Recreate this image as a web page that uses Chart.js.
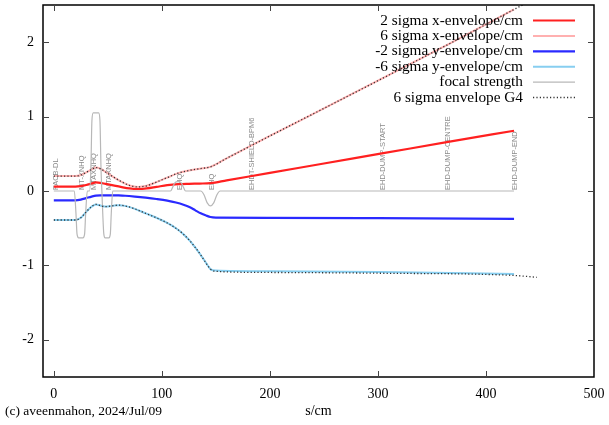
<!DOCTYPE html>
<html>
<head>
<meta charset="utf-8">
<script src="https://cdn.jsdelivr.net/npm/chart.js@4/dist/chart.umd.min.js"></script>
<style>
  html, body { margin: 0; padding: 0; background: #fff; }
  #wrap { width: 609px; height: 425px; position: relative; }
</style>
</head>
<body>
<div id="wrap"><canvas id="c" width="609" height="425"></canvas></div>
<script>
// Beam envelopes along the beamline (s in cm)
const sEnvX   = [0, 20, 25, 30, 35, 39, 43, 48, 55, 62, 70, 78, 86, 95, 105, 115, 125, 135, 145, 160, 200, 250, 305, 365, 426];
const sigma2X = [0.06, 0.06, 0.066, 0.08, 0.1, 0.115, 0.11, 0.095, 0.075, 0.055, 0.035, 0.028, 0.035, 0.055, 0.078, 0.092, 0.097, 0.1, 0.105, 0.143, 0.243, 0.37, 0.508, 0.66, 0.81];
const sigma6X = [0.2, 0.2, 0.215, 0.25, 0.29, 0.315, 0.3, 0.255, 0.19, 0.13, 0.075, 0.055, 0.07, 0.12, 0.18, 0.24, 0.275, 0.3, 0.325, 0.44, 0.74, 1.11, 1.52, 1.97, 2.44];

const sEnvY   = [0, 20, 25, 30, 35, 39, 43, 48, 54, 60, 66, 75, 85, 95, 105, 113, 120, 126, 131, 136, 141, 145, 150, 200, 300, 426];
const sigma2Y = [-0.125, -0.125, -0.115, -0.095, -0.075, -0.062, -0.058, -0.058, -0.058, -0.06, -0.064, -0.075, -0.09, -0.108, -0.13, -0.155, -0.185, -0.22, -0.26, -0.3, -0.33, -0.35, -0.357, -0.36, -0.365, -0.375];
const sigma6Y = [-0.39, -0.39, -0.36, -0.28, -0.21, -0.18, -0.195, -0.21, -0.2, -0.19, -0.2, -0.24, -0.3, -0.36, -0.43, -0.5, -0.58, -0.67, -0.76, -0.86, -0.97, -1.05, -1.07, -1.08, -1.09, -1.115];

// Geant4 6-sigma envelope (x and y)
const sG4X = [0, 20, 25, 30, 35, 39, 43, 48, 55, 62, 70, 78, 86, 95, 105, 115, 125, 135, 145, 160, 200, 250, 305, 365, 426, 447];
const g4X  = [0.2, 0.2, 0.215, 0.25, 0.29, 0.315, 0.3, 0.255, 0.19, 0.13, 0.075, 0.055, 0.07, 0.12, 0.18, 0.24, 0.275, 0.3, 0.325, 0.44, 0.74, 1.11, 1.52, 1.97, 2.44, 2.6];
const sG4Y = [0, 20, 25, 30, 35, 39, 43, 48, 54, 60, 66, 75, 85, 95, 105, 113, 120, 126, 131, 136, 141, 145, 150, 200, 300, 426, 447];
const g4Y  = [-0.39, -0.39, -0.36, -0.28, -0.21, -0.18, -0.195, -0.21, -0.2, -0.19, -0.2, -0.24, -0.3, -0.36, -0.43, -0.5, -0.58, -0.67, -0.76, -0.86, -0.97, -1.05, -1.08, -1.095, -1.105, -1.135, -1.16];

// Quadrupole focal strength
const sFocal = [0, 19, 20.5, 21.5, 23, 27, 28.5, 29.5, 31, 33, 34.3, 35.3, 36.5, 41.5, 42.7, 43.7, 44.5, 45.3, 46.3, 47.5, 51, 52.3, 53.2, 54.5, 108, 110, 112, 115, 118, 120, 122, 136, 139, 142, 145, 148, 151, 154, 426];
const focal  = [0, 0, -0.3, -0.58, -0.63, -0.63, -0.58, -0.3, 0, 0, 0.3, 0.95, 1.05, 1.05, 0.95, 0.3, 0, -0.3, -0.58, -0.63, -0.63, -0.58, -0.3, 0, 0, 0.05, 0.11, 0.125, 0.11, 0.05, 0, 0, -0.05, -0.16, -0.2, -0.16, -0.05, 0, 0];

// Beamline element markers
const elemS     = [2, 26.5, 37, 51, 116.5, 146, 183.6, 304.7, 365, 427];
const elemNames = ['FACB-DL', 'MT-XNHQ', 'MTAXNHQ', 'MTAXNHQ', 'EHQ', 'EHQ', 'EHDT-SHIELD-BPM6', 'EHD-DUMP-START', 'EHD-DUMP-CENTRE', 'EHD-DUMP-END'];

const xTicks = [0, 100, 200, 300, 400, 500];
const yTicks = [-2, -1, 0, 1, 2];

const SERIF = '"Liberation Serif", "DejaVu Serif", serif';
const pts = (s, v) => s.map((x, i) => ({ x: x, y: v[i] }));

const datasets = [
  { label: '2 sigma x-envelope/cm', data: pts(sEnvX, sigma2X), borderColor: '#ff2020', borderWidth: 2.2, order: 6 },
  { label: '6 sigma x-envelope/cm', data: pts(sEnvX, sigma6X), borderColor: '#ffb0b0', borderWidth: 2, order: 5 },
  { label: '-2 sigma y-envelope/cm', data: pts(sEnvY, sigma2Y), borderColor: '#2a2aff', borderWidth: 2.2, order: 4 },
  { label: '-6 sigma y-envelope/cm', data: pts(sEnvY, sigma6Y), borderColor: '#87cef0', borderWidth: 2, order: 3 },
  { label: 'focal strength', data: pts(sFocal, focal), borderColor: '#b8b8b8', borderWidth: 1.2, order: 2 },
  { label: '6 sigma envelope G4', data: pts(sG4X, g4X), borderColor: '#333', borderWidth: 1.3, borderDash: [1.2, 2.2], order: 1 },
  { label: '6 sigma envelope G4', data: pts(sG4Y, g4Y), borderColor: '#333', borderWidth: 1.3, borderDash: [1.2, 2.2], order: 0, legendSkip: true }
];
datasets.forEach(d => {
  d.pointRadius = 0;
  d.fill = false;
  d.cubicInterpolationMode = 'monotone';
});

// Vertical element names sitting on the zero line
const elementLabels = {
  id: 'elementLabels',
  beforeDatasetsDraw(chart) {
    const { ctx, scales: { x, y } } = chart;
    ctx.save();
    ctx.fillStyle = '#8a8a8a';
    ctx.font = '7.5px "Liberation Sans", "DejaVu Sans", sans-serif';
    ctx.textAlign = 'left';
    ctx.textBaseline = 'middle';
    const y0 = y.getPixelForValue(0);
    elemS.forEach((s, i) => {
      ctx.save();
      ctx.translate(x.getPixelForValue(s), y0 - 1);
      ctx.rotate(-Math.PI / 2);
      ctx.fillText(elemNames[i], 0, 0);
      ctx.restore();
    });
    ctx.restore();
  }
};

// Box frame with inward ticks on all four sides, legend and credit line
const frame = {
  id: 'frame',
  afterDraw(chart) {
    const { ctx, chartArea: a, scales: { x, y } } = chart;
    ctx.save();
    ctx.strokeStyle = '#000';
    ctx.lineWidth = 1.5;
    ctx.strokeRect(a.left, a.top, a.right - a.left, a.bottom - a.top);
    ctx.lineWidth = 1;
    ctx.strokeStyle = '#444';
    const tl = 6;
    ctx.beginPath();
    xTicks.forEach(v => {
      const px = Math.round(x.getPixelForValue(v)) + 0.5;
      ctx.moveTo(px, a.bottom); ctx.lineTo(px, a.bottom - tl);
      ctx.moveTo(px, a.top); ctx.lineTo(px, a.top + tl);
    });
    yTicks.forEach(v => {
      const py = Math.round(y.getPixelForValue(v)) + 0.5;
      ctx.moveTo(a.left, py); ctx.lineTo(a.left + tl, py);
      ctx.moveTo(a.right, py); ctx.lineTo(a.right - tl, py);
    });
    ctx.stroke();

    // legend: right-aligned text, sample line to its right
    ctx.font = '15.3px ' + SERIF;
    ctx.textAlign = 'right';
    ctx.textBaseline = 'middle';
    let row = 0;
    chart.data.datasets.forEach(d => {
      if (d.legendSkip) return;
      const yy = 20.5 + row * 15.4;
      ctx.fillStyle = '#000';
      ctx.fillText(d.label, 523, yy);
      ctx.save();
      ctx.strokeStyle = d.borderColor;
      ctx.lineWidth = d.borderWidth;
      ctx.setLineDash(d.borderDash || []);
      ctx.beginPath();
      ctx.moveTo(533, yy); ctx.lineTo(575, yy);
      ctx.stroke();
      ctx.restore();
      row++;
    });

    ctx.font = '13.5px ' + SERIF;
    ctx.textAlign = 'left';
    ctx.fillStyle = '#000';
    ctx.fillText('(c) aveenmahon, 2024/Jul/09', 5, 411);
    ctx.restore();
  }
};

new Chart(document.getElementById('c'), {
  type: 'line',
  data: { datasets: datasets },
  plugins: [elementLabels, frame],
  options: {
    responsive: false,
    animation: false,
    layout: { padding: { top: 5, right: 15, left: 0, bottom: 0 } },
    plugins: { legend: { display: false }, tooltip: { enabled: false } },
    scales: {
      x: {
        type: 'linear', min: -10, max: 500,
        afterBuildTicks: s => { s.ticks = xTicks.map(v => ({ value: v })); },
        afterFit: s => { s.height = 48; s.paddingLeft = 0; s.paddingRight = 0; },
        grid: { display: false, drawTicks: false },
        border: { display: false },
        ticks: { color: '#000', font: { family: SERIF, size: 14 }, padding: 9, maxRotation: 0 },
        title: { display: true, text: 's/cm', color: '#000', font: { family: SERIF, size: 14 }, padding: { top: 0, bottom: 5 } }
      },
      y: {
        type: 'linear', min: -2.5, max: 2.5,
        afterBuildTicks: s => { s.ticks = yTicks.map(v => ({ value: v })); },
        afterFit: s => { s.width = 43; s.paddingTop = 0; s.paddingBottom = 0; },
        grid: { display: false, drawTicks: false },
        border: { display: false },
        ticks: { color: '#000', font: { family: SERIF, size: 14 }, padding: 9 }
      }
    }
  }
});
</script>
</body>
</html>
